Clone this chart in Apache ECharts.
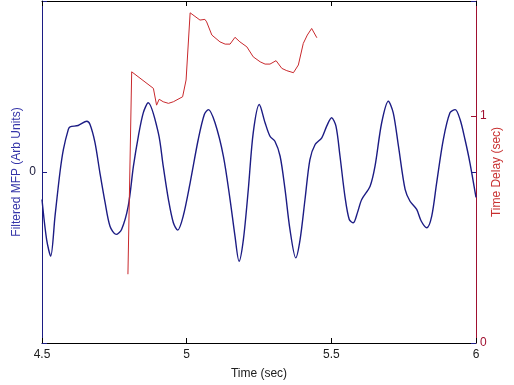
<!DOCTYPE html>
<html><head><meta charset="utf-8">
<script src="https://cdn.jsdelivr.net/npm/echarts@6/dist/echarts.min.js"></script>
<style>html,body{margin:0;padding:0;background:#fff}#c{width:514px;height:385px}</style>
</head><body><div id="c"></div>
<script>
const xTicks = [4.5, 5, 5.5, 6];
const mfpTime = [4.500,4.516,4.530,4.545,4.562,4.574,4.591,4.597,4.625,4.655,4.666,4.683,4.700,4.718,4.735,4.756,4.775,4.798,4.816,4.833,4.850,4.867,4.902,4.919,4.937,4.954,4.969,4.988,5.012,5.040,5.061,5.075,5.098,5.127,5.150,5.167,5.181,5.196,5.213,5.230,5.251,5.271,5.288,5.305,5.323,5.340,5.357,5.377,5.392,5.409,5.426,5.444,5.467,5.484,5.501,5.516,5.530,5.547,5.562,5.576,5.590,5.605,5.634,5.651,5.674,5.697,5.714,5.732,5.755,5.772,5.795,5.811,5.830,5.847,5.864,5.887,5.910,5.928,5.945,5.962,5.979,6.000];
const mfpValue = [-0.161,-0.395,-0.492,-0.258,-0.003,0.132,0.249,0.264,0.272,0.297,0.278,0.173,-0.003,-0.178,-0.317,-0.365,-0.336,-0.200,0.034,0.209,0.346,0.405,0.229,0.034,-0.161,-0.297,-0.340,-0.258,-0.063,0.190,0.336,0.365,0.288,0.092,-0.161,-0.375,-0.522,-0.395,-0.102,0.229,0.395,0.288,0.209,0.180,0.092,-0.102,-0.336,-0.502,-0.395,-0.161,0.073,0.161,0.200,0.268,0.317,0.268,0.092,-0.142,-0.278,-0.297,-0.239,-0.161,-0.083,0.034,0.288,0.414,0.346,0.151,-0.102,-0.171,-0.219,-0.288,-0.326,-0.258,-0.063,0.190,0.346,0.365,0.307,0.190,0.054,-0.149];
const delayTime = [4.797,4.810,4.885,4.891,4.896,4.905,4.919,4.937,4.954,4.986,4.998,5.012,5.046,5.063,5.069,5.087,5.115,5.133,5.150,5.167,5.184,5.208,5.230,5.254,5.271,5.288,5.309,5.329,5.346,5.369,5.386,5.403,5.417,5.432,5.450];
const delayValue = [0.303,1.195,1.122,1.115,1.048,1.074,1.063,1.056,1.063,1.085,1.159,1.455,1.423,1.426,1.415,1.357,1.327,1.317,1.317,1.347,1.327,1.305,1.261,1.239,1.229,1.229,1.244,1.210,1.200,1.191,1.225,1.320,1.357,1.386,1.345];

const navy = '#1c1c84', red = '#c8282c';
const font = 'Liberation Sans, Arial, sans-serif';
const chart = echarts.init(document.getElementById('c'));
chart.setOption({
  animation: false,
  grid: {left: 42, right: 38, top: 1, bottom: 42},
  xAxis: [{
    type: 'value', position: 'bottom', min: xTicks[0], max: xTicks[xTicks.length-1], interval: 0.5,
    name: 'Time (sec)', nameLocation: 'middle', nameGap: 25, nameMoveOverlap: false,
    nameTextStyle: {color: '#202020', fontSize: 12, fontFamily: font},
    axisLine: {show: true, onZero: false, lineStyle: {color: '#000', width: 1}},
    axisTick: {inside: true, length: 5, lineStyle: {color: '#000'}},
    axisLabel: {color: '#202020', fontSize: 12, fontFamily: font, margin: 6},
    splitLine: {show: false}
  }, {
    type: 'value', position: 'top', min: xTicks[0], max: xTicks[xTicks.length-1], interval: 0.5,
    axisLine: {show: true, onZero: false, lineStyle: {color: '#000', width: 1}},
    axisTick: {inside: true, length: 5, lineStyle: {color: '#000'}},
    axisLabel: {show: false}, splitLine: {show: false}
  }],
  yAxis: [{
    type: 'value', min: -1, max: 1, interval: 1, position: 'left',
    name: 'Filtered MFP (Arb Units)', nameLocation: 'middle', nameGap: 19, nameMoveOverlap: false,
    nameTextStyle: {color: '#3434a8', fontSize: 12, fontFamily: font},
    axisLine: {show: true, onZero: false, lineStyle: {color: navy, width: 1}},
    axisTick: {inside: true, length: 5, lineStyle: {color: navy}},
    axisLabel: {color: '#202040', fontSize: 12, fontFamily: font, margin: 6,
      formatter: v => (v === 0 ? '0' : '')},
    splitLine: {show: false}
  }, {
    type: 'value', min: 0, max: 1.507, interval: 1, position: 'right',
    name: 'Time Delay (sec)', nameLocation: 'middle', nameGap: 15, nameMoveOverlap: false,
    nameTextStyle: {color: '#c83030', fontSize: 12, fontFamily: font},
    axisLine: {show: true, onZero: false, lineStyle: {color: '#a01030', width: 1}},
    axisTick: {inside: true, length: 5, lineStyle: {color: '#a01030'}},
    axisLabel: {color: '#a01030', fontSize: 12, fontFamily: font, margin: 4, showMaxLabel: false},
    splitLine: {show: false}
  }, {
    type: 'value', min: -1, max: 1, interval: 1, position: 'right',
    axisLine: {show: false, onZero: false},
    axisTick: {inside: true, length: 5, lineStyle: {color: navy}},
    axisLabel: {show: false}, splitLine: {show: false}
  }],
  series: [{
    type: 'line', xAxisIndex: 0, yAxisIndex: 0, showSymbol: false, smooth: 0.3,
    data: mfpTime.map((t, i) => [t, mfpValue[i]]),
    lineStyle: {color: navy, width: 1.4}
  }, {
    type: 'line', xAxisIndex: 0, yAxisIndex: 1, showSymbol: false,
    data: delayTime.map((t, i) => [t, delayValue[i]]),
    lineStyle: {color: red, width: 1}
  }]
});
</script></body></html>
